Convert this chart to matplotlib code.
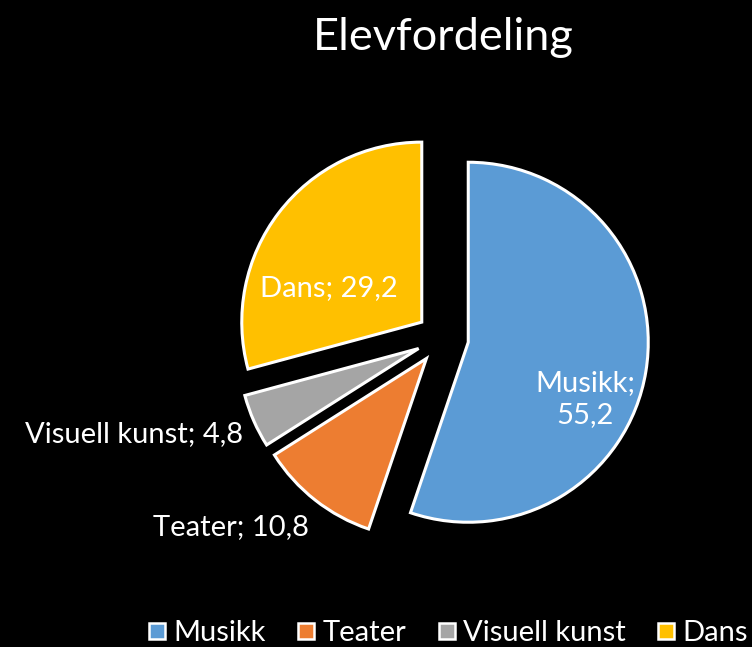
import matplotlib.pyplot as plt
from matplotlib.lines import Line2D

plt.rcParams['font.family'] = ['Lato', 'DejaVu Sans']

# data
categories = ["Musikk", "Teater", "Visuell kunst", "Dans"]
values = [55.2, 10.8, 4.8, 29.2]
colors = ["#5B9BD5", "#ED7D31", "#A5A5A5", "#FFC000"]
title = "Elevfordeling"

W, H = 752, 647
fig = plt.figure(figsize=(W / 100, H / 100), dpi=100, facecolor="black")

# pie centre and radius in pixels (from the top-left)
cx, cy, R = 442.5, 338, 180
ax = fig.add_axes([0, 0, 1, 1])
ax.set_facecolor("black")

wedges, _ = ax.pie(values, colors=colors, startangle=90, counterclock=False,
                   explode=[0.145] * len(values),
                   wedgeprops=dict(edgecolor="white", linewidth=2.2))
ax.set_xlim(-cx / R, (W - cx) / R)
ax.set_ylim(-(H - cy) / R, cy / R)
ax.set_aspect("auto")
ax.axis("off")

def fmt(v):
    return f"{v:.1f}".replace(".", ",")

# label spots (pixels, baseline) and line breaks
label_pos = [(585, 423), (231, 535), (134, 442), (329, 296)]
label_sep = ["\n", " ", " ", " "]
for name, v, (px, py), sep in zip(categories, values, label_pos, label_sep):
    ax.text((px - cx) / R, (cy - py) / R, f"{name};{sep}{fmt(v)}",
            color="white", fontsize=21, ha="center", va="baseline",
            linespacing=1.3)

fig.text(443 / W, 1 - 50 / H, title, color="white", fontsize=32.5,
         ha="center", va="baseline")

handles = [Line2D([], [], marker="s", linestyle="none", markersize=12,
                  markerfacecolor=c, markeredgecolor="white", markeredgewidth=1.8)
           for c in colors]
fig.legend(handles, categories, loc="lower center", bbox_to_anchor=(448 / W, -0.03),
           ncol=4, frameon=False, fontsize=21, labelcolor="white",
           handlelength=0.6, handletextpad=0.25, columnspacing=1.1, borderpad=0.2)

fig.savefig("out.png", dpi=100, facecolor="black")
